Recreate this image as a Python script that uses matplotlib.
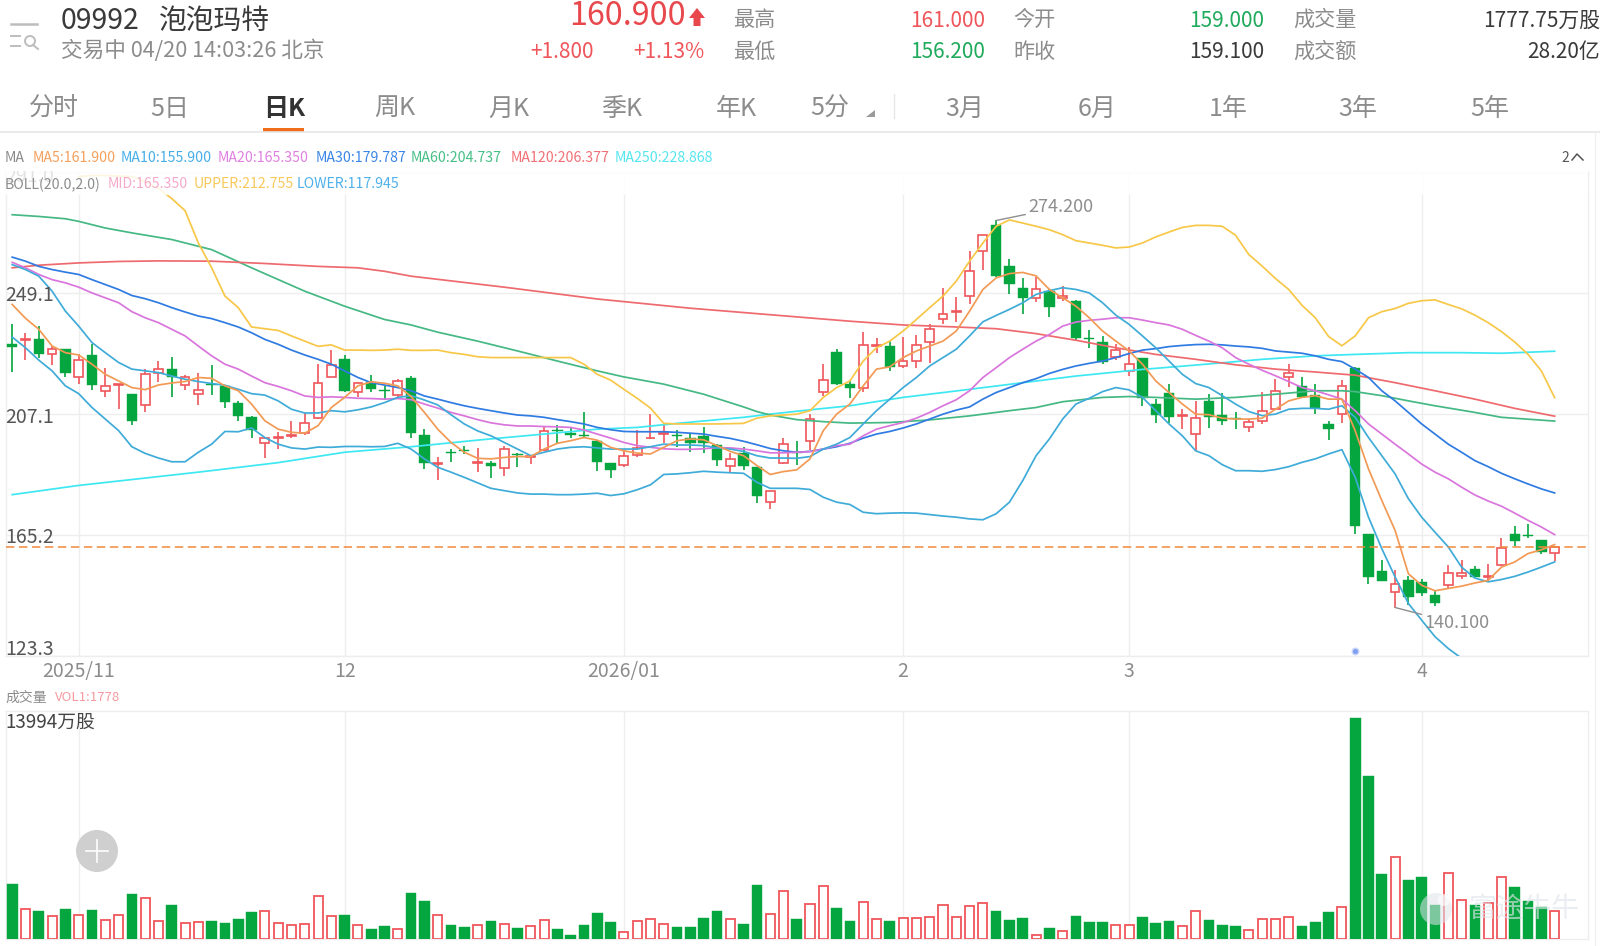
"""Daily K-line view of 09992 with moving averages, Bollinger bands and volume.

Produces out.png.
"""

from __future__ import annotations

import matplotlib

matplotlib.use("Agg")
import matplotlib.pyplot as plt
import numpy as np
from matplotlib.patches import Circle, Polygon, Rectangle

plt.rcParams["font.family"] = ["Noto Sans CJK SC", "DejaVu Sans"]

WIDTH, HEIGHT = 1600, 946
LEFT, RIGHT = 5.7, 1588.0
FIRST_X, STEP_X = 12.2, 13.297
PRICE_TOP, PRICE_BOTTOM = 172.0, 656.0
VOL_TOP, VOL_BOTTOM = 710.7, 939.3

RED = "#ef565b"
GREEN = "#05a540"
GRID = "#eeeeee"
GREY_TEXT = "#8c8c8c"
DARK_TEXT = "#3a3a3a"
LINE_WIDTH = 1.25

OPEN = [
    231.3, 232.8, 233.0, 227.8, 229.6, 220.1, 227.6, 215.2, 217.1, 214.0,
    210.1, 221.5, 222.8, 217.1, 214.2, 217.5, 216.8, 211.1, 206.2, 197.2,
    198.9, 199.5, 200.4, 205.9, 220.1, 226.1, 214.8, 218.3, 215.5, 213.6,
    219.5, 200.0, 189.7, 194.0, 194.6, 190.1, 190.3, 188.5, 193.4, 192.4,
    194.8, 201.7, 200.4, 199.9, 197.9, 190.0, 189.5, 193.1, 198.7, 200.2,
    199.9, 198.7, 199.5, 196.5, 189.0, 193.6, 188.7, 176.6, 190.3, 194.1,
    197.9, 214.9, 228.6, 217.4, 216.2, 230.6, 230.8, 223.8, 225.5, 232.2,
    240.0, 242.5, 248.0, 263.5, 272.7, 258.5, 250.9, 247.4, 249.7, 247.2,
    246.3, 233.5, 232.2, 226.9, 222.1, 226.6, 210.6, 214.4, 206.3, 200.2,
    211.5, 206.8, 205.6, 202.5, 204.8, 209.0, 219.9, 216.7, 213.8, 203.7,
    207.1, 223.0, 165.6, 152.8, 145.5, 149.5, 148.9, 144.6, 148.0, 150.9,
    153.3, 150.7, 154.7, 165.6, 165.2, 163.4, 159.0,
]
HIGH = [
    238.5, 235.3, 237.6, 230.7, 229.8, 228.1, 231.5, 223.2, 217.4, 214.1,
    222.9, 225.5, 226.9, 220.7, 221.5, 224.3, 217.1, 211.7, 206.3, 199.3,
    200.8, 204.6, 207.5, 224.6, 229.4, 227.6, 218.3, 220.6, 216.8, 219.2,
    220.3, 201.9, 192.4, 195.1, 196.2, 195.2, 191.0, 196.2, 193.6, 192.7,
    202.5, 203.4, 202.5, 207.7, 198.1, 190.1, 194.4, 201.6, 207.1, 203.4,
    201.6, 200.2, 202.5, 196.7, 193.6, 195.6, 188.9, 180.6, 199.0, 197.7,
    207.1, 224.6, 229.6, 218.6, 235.5, 233.6, 232.4, 233.8, 234.5, 238.4,
    250.9, 247.8, 263.8, 269.3, 274.2, 261.0, 254.3, 254.5, 250.6, 251.4,
    246.5, 236.1, 234.2, 231.3, 230.4, 226.7, 212.3, 217.5, 208.8, 211.7,
    214.0, 214.4, 207.8, 205.4, 214.6, 219.4, 224.4, 220.0, 217.7, 204.8,
    219.0, 223.6, 165.7, 156.5, 153.2, 151.0, 150.0, 145.9, 154.7, 156.5,
    154.6, 155.1, 164.3, 168.3, 169.1, 163.6, 161.0,
]
LOW = [
    221.8, 225.8, 226.7, 224.1, 220.1, 217.6, 215.6, 213.2, 208.9, 203.4,
    208.0, 218.4, 212.9, 215.5, 210.4, 213.8, 209.4, 204.7, 199.0, 191.8,
    195.1, 199.0, 200.0, 205.4, 220.1, 214.6, 212.9, 214.8, 211.9, 212.9,
    198.8, 188.0, 184.4, 190.4, 193.3, 187.0, 184.9, 185.5, 188.9, 189.8,
    194.2, 197.0, 199.0, 198.8, 187.3, 185.0, 188.9, 192.4, 198.5, 197.0,
    195.6, 193.9, 193.5, 189.3, 186.7, 187.9, 176.3, 174.2, 189.8, 189.6,
    194.7, 213.4, 217.1, 212.6, 214.9, 228.4, 222.1, 223.2, 223.0, 224.8,
    238.2, 239.0, 245.1, 257.1, 254.5, 248.8, 241.9, 245.9, 240.7, 246.3,
    232.7, 229.9, 224.6, 225.8, 220.3, 210.0, 203.9, 204.2, 201.9, 194.2,
    202.3, 203.3, 201.9, 201.0, 203.7, 208.7, 216.6, 212.6, 207.3, 198.1,
    204.0, 165.4, 148.2, 149.2, 140.1, 141.1, 144.0, 140.6, 146.7, 150.1,
    150.5, 149.3, 154.4, 161.3, 164.3, 158.5, 156.2,
]
CLOSE = [
    230.4, 233.1, 228.1, 229.5, 221.5, 226.0, 217.2, 216.8, 217.4, 204.8,
    220.9, 222.6, 220.0, 219.8, 215.6, 217.1, 211.3, 206.4, 201.6, 198.7,
    199.3, 199.9, 204.0, 218.0, 224.1, 215.0, 218.0, 215.9, 215.2, 218.5,
    200.4, 190.2, 190.1, 193.6, 194.2, 190.4, 189.1, 195.1, 193.1, 192.7,
    201.1, 201.1, 200.0, 199.4, 190.6, 187.9, 192.5, 195.2, 199.0, 200.5,
    199.5, 197.1, 197.0, 191.3, 191.4, 189.1, 178.6, 180.4, 196.6, 193.8,
    205.4, 219.0, 217.5, 216.3, 230.9, 230.9, 223.6, 225.5, 230.9, 236.5,
    241.7, 242.8, 256.6, 269.3, 254.8, 252.2, 247.4, 250.5, 244.3, 248.0,
    233.6, 233.1, 225.3, 229.3, 224.4, 212.6, 206.9, 206.2, 206.8, 205.9,
    206.2, 204.8, 205.3, 204.4, 208.3, 215.0, 221.3, 212.9, 209.4, 202.1,
    216.7, 168.3, 150.7, 149.3, 148.2, 143.6, 145.3, 141.7, 152.1, 152.2,
    150.7, 151.0, 160.8, 163.2, 164.9, 159.4, 160.9,
]
# Volume in units of 10k shares
VOLUME = [
    3493, 1915, 1809, 1452, 1915, 1515, 1852, 1199, 1536, 2883,
    2609, 1157, 2167, 1052, 1073, 1136, 1031, 1305, 1746, 1788,
    1052, 884, 968, 2756, 1494, 1515, 884, 673, 821, 652,
    2904, 2420, 1557, 884, 800, 905, 1136, 968, 736, 821,
    1199, 631, 295, 905, 1662, 1115, 463, 1157, 1283, 989,
    778, 778, 1326, 1767, 1283, 968, 3408, 1620, 3072, 1305,
    2230, 3387, 1957, 1178, 2335, 1305, 1178, 1326, 1368, 1431,
    2188, 1389, 2125, 2293, 1767, 1199, 1368, 274, 694, 526,
    1494, 1073, 1073, 905, 926, 1389, 1031, 1136, 863, 1788,
    1199, 926, 821, 589, 1305, 1283, 1431, 842, 1094, 1746,
    2062, 13994, 10310, 4124, 5218, 3745, 3913, 2167, 4166, 2483,
    2167, 2314, 3913, 3324, 2420, 2062, 1778,
]

MA5 = [
    245.1, 240.3, 236.5, 230.7, 228.4, 227.6, 224.4, 220.9, 218.6, 216.3,
    215.6, 217.2, 217.9, 218.4, 219.8, 219.5, 216.9, 215.2, 210.6, 204.8,
    201.9, 200.8, 200.5, 203.1, 209.4, 212.9, 216.9, 218.3, 217.8, 216.9,
    213.2, 207.7, 201.9, 197.3, 193.9, 191.8, 191.6, 192.1, 192.4, 192.4,
    195.0, 197.0, 197.9, 199.0, 198.1, 195.6, 194.4, 193.6, 193.3, 195.6,
    197.9, 198.5, 198.2, 196.2, 194.2, 192.7, 189.3, 186.2, 187.2, 187.8,
    191.6, 201.4, 207.1, 210.6, 216.9, 222.7, 223.5, 226.7, 229.0, 230.7,
    232.4, 235.9, 242.8, 250.3, 254.3, 255.8, 256.2, 255.0, 250.3, 247.4,
    244.5, 240.5, 235.9, 232.4, 229.0, 224.4, 218.6, 214.6, 210.6, 207.1,
    206.9, 205.7, 205.4, 205.4, 205.7, 208.8, 211.7, 212.9, 213.5, 212.3,
    212.3, 201.3, 188.1, 177.2, 166.8, 151.8, 147.8, 145.9, 146.7, 147.5,
    148.6, 149.5, 154.1, 155.9, 158.8, 160.1, 161.9,
]
MA10 = [
    258.9, 257.2, 254.9, 249.7, 242.8, 237.6, 231.9, 228.4, 225.0, 222.7,
    222.1, 221.5, 220.3, 219.2, 218.4, 217.7, 217.1, 215.7, 214.2, 213.7,
    211.7, 208.8, 207.5, 207.5, 208.3, 207.9, 208.6, 209.6, 211.1, 212.9,
    213.5, 212.0, 210.3, 206.9, 203.7, 201.3, 199.6, 197.3, 195.0, 192.7,
    193.9, 195.0, 195.6, 195.8, 195.4, 195.0, 195.0, 195.0, 195.8, 196.7,
    196.4, 196.4, 196.2, 195.4, 195.0, 194.2, 192.7, 191.9, 191.9, 191.8,
    192.4, 195.0, 196.7, 199.0, 203.7, 208.3, 212.3, 216.3, 219.8, 223.8,
    226.7, 229.6, 234.2, 239.1, 241.3, 243.4, 245.7, 248.6, 249.9, 250.9,
    250.3, 249.1, 245.7, 241.4, 238.2, 234.2, 230.1, 225.5, 220.9, 217.7,
    216.3, 213.5, 210.6, 208.0, 206.6, 207.1, 208.8, 209.1, 209.1, 208.8,
    210.0, 206.0, 199.0, 192.7, 186.4, 177.8, 171.4, 166.2, 161.1, 154.1,
    150.3, 149.0, 149.8, 150.9, 152.4, 154.1, 155.9,
]
MA20 = [
    259.7, 257.8, 255.5, 253.7, 252.6, 251.1, 249.1, 247.4, 245.7, 242.6,
    240.5, 238.8, 236.5, 234.2, 230.7, 227.3, 224.4, 222.7, 220.3, 218.0,
    216.7, 215.2, 213.4, 212.9, 213.1, 212.9, 212.6, 212.5, 212.3, 212.5,
    212.1, 210.6, 209.2, 207.7, 206.5, 205.2, 204.1, 203.4, 203.0, 203.0,
    202.8, 202.7, 202.5, 201.6, 200.2, 198.8, 197.3, 196.2, 195.6, 195.1,
    194.9, 194.9, 195.1, 195.5, 195.4, 195.0, 194.4, 193.7, 193.7, 193.9,
    194.1, 195.0, 196.2, 196.7, 199.6, 201.9, 203.1, 204.2, 205.7, 207.7,
    210.0, 212.1, 215.2, 219.8, 223.2, 226.7, 229.6, 232.4, 234.7, 237.6,
    239.0, 239.6, 240.0, 240.5, 240.5, 239.7, 238.8, 238.0, 236.5, 234.4,
    232.4, 230.1, 226.7, 224.4, 222.3, 220.4, 218.4, 216.3, 215.2, 213.8,
    212.3, 208.3, 203.7, 200.2, 196.7, 193.3, 189.8, 187.0, 184.7, 181.8,
    179.1, 177.0, 175.2, 172.8, 170.3, 168.0, 165.35,
]
MA30 = [
    261.5, 260.1, 258.3, 257.2, 256.3, 255.5, 253.7, 252.0, 250.3, 248.2,
    247.1, 245.7, 244.0, 242.5, 241.1, 240.2, 238.8, 237.3, 235.3, 233.0,
    231.3, 229.3, 227.6, 226.1, 224.4, 222.1, 219.8, 218.0, 217.2, 216.3,
    215.2, 213.4, 212.3, 211.1, 210.0, 209.1, 208.3, 207.5, 206.8, 206.5,
    206.0, 205.2, 204.5, 203.7, 202.5, 201.7, 201.1, 201.0, 201.0, 201.0,
    200.8, 200.5, 200.2, 199.4, 198.7, 197.7, 196.5, 195.2, 194.4, 193.9,
    194.2, 195.0, 195.8, 197.0, 198.8, 200.2, 201.1, 202.3, 203.7, 205.4,
    207.1, 208.5, 209.6, 212.3, 214.6, 216.3, 218.0, 219.4, 221.2, 222.6,
    223.8, 224.7, 225.5, 226.7, 228.1, 229.3, 229.8, 230.5, 230.9, 231.2,
    231.3, 231.1, 230.7, 230.4, 229.9, 229.0, 228.6, 228.2, 227.3, 226.1,
    225.3, 222.7, 219.8, 215.2, 211.7, 207.7, 203.7, 200.2, 196.7, 193.9,
    191.0, 188.9, 186.6, 184.7, 182.9, 181.2, 179.8,
]
LOWER = [
    233.8, 230.1, 225.8, 222.1, 216.9, 214.2, 209.4, 205.4, 201.4, 195.8,
    193.5, 191.9, 190.6, 190.6, 193.9, 196.7, 201.1, 201.0, 202.3, 199.0,
    196.7, 195.4, 195.0, 195.7, 195.6, 195.9, 195.9, 195.8, 195.9, 197.0,
    195.0, 191.6, 188.7, 187.0, 185.2, 183.3, 181.4, 180.6, 179.8, 179.4,
    179.4, 179.2, 179.2, 179.4, 179.7, 178.9, 179.5, 180.9, 182.6, 186.2,
    186.4, 186.8, 187.3, 187.0, 186.8, 186.6, 183.5, 181.4, 181.4, 181.4,
    181.0, 178.3, 176.6, 175.8, 173.1, 172.6, 172.8, 172.9, 172.8, 172.3,
    171.8, 171.4, 170.8, 170.5, 172.6, 176.6, 184.1, 192.7, 198.5, 205.4,
    210.6, 212.6, 214.9, 216.3, 215.5, 212.9, 208.3, 203.7, 199.6, 194.4,
    192.7, 189.6, 187.5, 187.5, 187.3, 187.9, 188.9, 190.4, 191.6, 193.3,
    194.8, 185.2, 171.4, 160.5, 150.7, 141.5, 135.7, 130.0, 125.9, 122.5,
    121.5, 120.6, 119.9, 119.3, 118.8, 118.3, 117.9,
]
# Upper band enters the chart at the sixth session
UPPER_START = 6
UPPER = [
    289.4, 289.8, 289.8, 289.6, 289.4, 287.7, 285.3, 281.8, 277.6, 266.4,
    257.8, 248.0, 244.0, 237.3, 236.7, 236.1, 234.2, 232.4, 230.6, 231.1,
    229.3, 229.3, 229.2, 229.3, 229.6, 229.2, 229.2, 229.3, 228.4, 227.8,
    227.0, 226.7, 226.7, 226.7, 226.7, 226.7, 226.7, 226.7, 224.4, 220.9,
    218.9, 215.7, 212.6, 209.2, 203.9, 203.7, 203.7, 203.7, 203.7, 203.8,
    203.9, 205.7, 206.5, 206.8, 207.1, 208.3, 212.9, 216.3, 218.6, 225.5,
    230.1, 232.4, 235.9, 239.9, 244.0, 248.0, 253.2, 260.1, 266.4, 272.2,
    274.4, 273.3, 272.2, 271.0, 269.3, 267.2, 266.4, 265.6, 264.7, 265.0,
    266.4, 268.5, 270.2, 271.8, 272.5, 272.5, 272.2, 269.1, 262.4, 258.4,
    254.1, 250.3, 244.8, 240.5, 234.0, 230.8, 234.2, 240.5, 242.6, 243.7,
    245.5, 246.4, 246.7, 245.1, 243.6, 241.4, 238.8, 235.7, 232.1, 227.8,
    222.1, 212.8,
]
# The slow averages are read at fewer sessions (1-based session numbers)
MA60_DAYS = [
    1, 3, 5, 6, 8, 10, 13, 16, 19, 23, 26, 29, 31, 33, 36, 39, 42, 45, 47, 50,
    53, 56, 57, 58, 60, 62, 64, 67, 70, 73, 76, 78, 80, 83, 85, 87, 90, 93,
    96, 99, 101, 102, 104, 106, 108, 111, 113, 117,
]
MA60 = [
    276.2, 275.6, 274.8, 273.9, 271.6, 269.9, 267.6, 264.1, 257.8, 249.7,
    244.5, 239.9, 238.0, 235.5, 232.4, 229.0, 225.5, 222.1, 220.0, 217.5,
    214.0, 209.6, 208.0, 206.8, 205.2, 204.5, 204.0, 204.2, 205.1, 206.5,
    208.3, 209.4, 211.4, 212.9, 213.2, 212.9, 212.3, 212.9, 214.0, 215.2,
    215.2, 214.9, 213.5, 211.7, 210.0, 207.7, 206.0, 204.7,
]
MA120_DAYS = [
    1, 3, 6, 9, 12, 16, 20, 24, 27, 29, 31, 38, 45, 52, 60, 64, 68, 72, 75,
    78, 81, 84, 87, 90, 93, 96, 99, 102, 105, 108, 111, 114, 117,
]
MA120 = [
    257.8, 258.7, 259.5, 260.0, 260.2, 260.1, 259.3, 258.3, 257.8, 256.6,
    254.9, 251.1, 247.0, 243.8, 240.8, 239.3, 238.0, 237.3, 236.7, 235.0,
    232.7, 230.1, 227.8, 226.1, 224.2, 222.7, 221.7, 220.6, 218.0, 215.2,
    212.3, 209.1, 206.4,
]
MA250_DAYS = [
    1, 6, 15, 21, 26, 31, 36, 41, 45, 48, 51, 56, 58, 61, 64, 68, 73, 77, 81,
    86, 90, 95, 99, 102, 106, 110, 113, 117,
]
MA250 = [
    179.2, 182.4, 187.0, 190.3, 193.9, 195.8, 198.1, 200.2, 201.9, 202.5,
    203.9, 206.0, 207.1, 208.6, 210.0, 212.9, 215.7, 218.0, 220.3, 222.6,
    224.1, 226.1, 227.3, 227.8, 228.4, 228.4, 228.2, 228.9,
]

PRICE_TICKS = [123.3, 165.2, 207.1, 249.1, 291.0]
PRICE_LABELS = ["123.3", "165.2", "207.1", "249.1", "291.0"]
MONTH_DAYS = [6, 26, 47, 68, 85, 107]
MONTH_LABELS = ["2025/11", "12", "2026/01", "2", "3", "4"]

LAST_PRICE = 160.9
HIGH_MARK = (75, 274.2, "274.200")
LOW_MARK = (105, 140.1, "140.100")
VOLUME_MAX_LABEL = "13994万股"

TABS_LEFT = ["分时", "5日", "日K", "周K", "月K", "季K", "年K", "5分"]
TABS_LEFT_X = [54, 170, 284, 395, 509, 622, 736, 830]
TABS_RIGHT = ["3月", "6月", "1年", "3年", "5年"]
TABS_RIGHT_X = [965, 1097, 1228, 1358, 1490]

MA_LEGEND = [
    ("MA", 5, "#8c8c8c"),
    ("MA5:161.900", 33, "#f5a05c"),
    ("MA10:155.900", 121, "#46aee8"),
    ("MA20:165.350", 218, "#e080e0"),
    ("MA30:179.787", 316, "#3a86e8"),
    ("MA60:204.737", 411, "#46bf86"),
    ("MA120:206.377", 511, "#f07075"),
    ("MA250:228.868", 615, "#55e6f0"),
]
BOLL_LEGEND = [
    ("BOLL(20.0,2.0)", 5, "#8c8c8c"),
    ("MID:165.350", 108, "#f5aacb"),
    ("UPPER:212.755", 194, "#f8c95a"),
    ("LOWER:117.945", 297, "#4fb0ea"),
]
QUOTE_TEXT = [
    # text, x, y, size, colour, horizontal alignment
    ("160.900", 686, 16, 23.2, "#e8474c", "right"),
    ("+1.800", 594, 52, 15, RED, "right"),
    ("+1.13%", 704, 52, 15, RED, "right"),
    ("最高", 733, 20, 15.2, GREY_TEXT, "left"),
    ("最低", 733, 52, 15.2, GREY_TEXT, "left"),
    ("161.000", 985, 21, 15, RED, "right"),
    ("156.200", 985, 52, 15, "#20aa5c", "right"),
    ("今开", 1013, 20, 15.2, GREY_TEXT, "left"),
    ("昨收", 1013, 52, 15.2, GREY_TEXT, "left"),
    ("159.000", 1264, 21, 15, "#20aa5c", "right"),
    ("159.100", 1264, 52, 15, DARK_TEXT, "right"),
    ("成交量", 1293, 20, 15.2, GREY_TEXT, "left"),
    ("成交额", 1293, 52, 15.2, GREY_TEXT, "left"),
    ("1777.75万股", 1600, 21, 15, DARK_TEXT, "right"),
    ("28.20亿", 1600, 52, 15, DARK_TEXT, "right"),
]


def to_data_x(px: float) -> float:
    return (px - FIRST_X) / STEP_X


def add_axes_px(fig, top: float, bottom: float):
    ax = fig.add_axes(
        [
            LEFT / WIDTH,
            1 - bottom / HEIGHT,
            (RIGHT - LEFT) / WIDTH,
            (bottom - top) / HEIGHT,
        ]
    )
    ax.set_xlim(to_data_x(LEFT), to_data_x(RIGHT))
    ax.set_xticks(np.array(MONTH_DAYS) - 1)
    ax.set_xticklabels([])
    ax.tick_params(length=0, labelleft=False)
    ax.grid(True, color=GRID, linewidth=1.0)
    ax.set_axisbelow(True)
    for spine in ax.spines.values():
        spine.set_color(GRID)
        spine.set_linewidth(1.0)
    return ax


def draw_candles(ax) -> None:
    days = np.arange(len(CLOSE))
    opens, closes = np.array(OPEN), np.array(CLOSE)
    up = closes >= opens
    colours = np.where(up, RED, GREEN)
    ax.vlines(days, LOW, HIGH, colors=colours, linewidth=1.2, zorder=2)
    ax.bar(
        days[up],
        (closes - opens)[up],
        bottom=opens[up],
        width=0.66,
        facecolor="white",
        edgecolor=RED,
        linewidth=1.2,
        zorder=3,
    )
    ax.bar(
        days[~up],
        (opens - closes)[~up],
        bottom=closes[~up],
        width=0.78,
        facecolor=GREEN,
        edgecolor=GREEN,
        linewidth=0.3,
        zorder=3,
    )


def draw_lines(ax) -> None:
    dense = [
        (MA30, "#2f7be2"),
        (MA20, "#d975dc"),
        (MA10, "#3fabd8"),
        (LOWER, "#3fabd8"),
        (MA5, "#f29a55"),
    ]
    sparse = [
        (MA250_DAYS, MA250, "#3ee8f2"),
        (MA60_DAYS, MA60, "#45b884"),
        (MA120_DAYS, MA120, "#ee6a6e"),
    ]
    for days, values, colour in sparse:
        ax.plot(np.array(days) - 1, values, color=colour, linewidth=LINE_WIDTH, zorder=4)
    upper_days = np.arange(len(UPPER)) + UPPER_START - 1
    ax.plot(upper_days, UPPER, color="#f7c748", linewidth=LINE_WIDTH, zorder=4)
    for values, colour in dense:
        ax.plot(np.arange(len(values)), values, color=colour, linewidth=LINE_WIDTH, zorder=4)
    ax.axhline(
        LAST_PRICE, color="#f08a3c", linewidth=1.1, dashes=(5.5, 3), zorder=5
    )


def draw_price_panel(fig):
    ax = add_axes_px(fig, PRICE_TOP, PRICE_BOTTOM)
    ax.set_ylim(PRICE_TICKS[0], PRICE_TICKS[-1])
    ax.set_yticks(PRICE_TICKS)
    draw_candles(ax)
    draw_lines(ax)

    # label centres sit a few pixels off their grid lines
    offsets = [6.5, -2, -3.5, -3, -5]
    for value, label, offset in zip(PRICE_TICKS, PRICE_LABELS, offsets):
        ax.annotate(
            label,
            (LEFT, value),
            xycoords=("figure pixels", "data"),
            xytext=(0, offset * 0.72),
            textcoords="offset points",
            fontsize=14,
            color="#555555",
            va="center",
            ha="left",
            annotation_clip=False,
            zorder=6,
        )

    for (day, value, label), offset in zip(
        [HIGH_MARK, LOW_MARK], [(23, 9.5), (21, -11.5)]
    ):
        ax.annotate(
            label,
            (day - 1, value),
            xytext=offset,
            textcoords="offset points",
            fontsize=13,
            color="#8e8e8e",
            va="center",
            ha="left",
            arrowprops=dict(arrowstyle="-", color="#8e8e8e", linewidth=1.0, shrinkA=0, shrinkB=0),
            zorder=6,
        )
    ax.scatter([LOW_MARK[0] - 4], [125.1], s=22, color="#7f9ff2", edgecolor="#c8d6fa", linewidth=1, zorder=6)
    return ax


def draw_volume_panel(fig):
    ax = add_axes_px(fig, VOL_TOP, VOL_BOTTOM)
    days = np.arange(len(VOLUME))
    volume = np.array(VOLUME)
    up = np.array(CLOSE) >= np.array(OPEN)
    ax.set_ylim(0, max(VOLUME) * (VOL_BOTTOM - VOL_TOP) / 221.6)
    ax.set_yticks([])
    ax.grid(True, axis="x", color=GRID, linewidth=1.0)
    ax.bar(days[up], volume[up], width=0.68, facecolor="white", edgecolor=RED, linewidth=1.3, zorder=3)
    ax.bar(days[~up], volume[~up], width=0.8, facecolor=GREEN, edgecolor=GREEN, linewidth=0.3, zorder=3)
    return ax


def draw_chrome(fig) -> None:
    ov = fig.add_axes([0, 0, 1, 1], zorder=10)
    ov.set_xlim(0, WIDTH)
    ov.set_ylim(HEIGHT, 0)
    ov.axis("off")
    ov.patch.set_alpha(0)

    # menu and search icon
    ov.plot([11, 37], [24, 24], color="#bdbdbd", linewidth=1.8)
    ov.plot([11, 20], [36, 36], color="#bdbdbd", linewidth=1.4)
    ov.plot([11, 20], [46, 46], color="#bdbdbd", linewidth=1.4)
    ov.add_patch(Circle((30, 41), 5, fill=False, edgecolor="#bdbdbd", linewidth=1.4))
    ov.plot([33, 38], [45, 49], color="#bdbdbd", linewidth=1.4)

    ov.text(61, 21, "09992", fontsize=20.5, color=DARK_TEXT, va="center", ha="left")
    ov.text(159, 21, "泡泡玛特", fontsize=20, color=DARK_TEXT, va="center", ha="left")
    ov.text(61, 51, "交易中 04/20 14:03:26 北京", fontsize=15.6, color=GREY_TEXT, va="center", ha="left")
    for text, x, y, size, colour, align in QUOTE_TEXT:
        ov.text(x, y, text, fontsize=size, color=colour, va="center", ha=align)
    ov.add_patch(
        Polygon(
            [(697, 8), (705, 18), (700.5, 18), (700.5, 26), (693.5, 26), (693.5, 18), (689, 18)],
            facecolor="#e8474c",
            edgecolor="none",
        )
    )

    for label, x in zip(TABS_LEFT, TABS_LEFT_X):
        active = label == "日K"
        ov.text(
            x,
            108.5,
            label,
            fontsize=18,
            color="#333333" if active else GREY_TEXT,
            fontweight="bold" if active else "normal",
            va="center",
            ha="center",
        )
    for label, x in zip(TABS_RIGHT, TABS_RIGHT_X):
        ov.text(x, 108.5, label, fontsize=18, color=GREY_TEXT, va="center", ha="center")
    ov.add_patch(Polygon([(875, 110), (875, 117), (866, 117)], facecolor="#9a9a9a", edgecolor="none"))
    ov.plot([894, 894], [94, 118], color="#e6e6e6", linewidth=1)
    ov.plot([0, WIDTH], [132, 132], color="#e6e6e6", linewidth=1.2)
    ov.add_patch(Rectangle((263, 128), 41, 4, facecolor="#ef6c1a", edgecolor="none"))
    ov.plot([1595, 1595], [132, HEIGHT], color="#f0f0f0", linewidth=1)

    # legend rows sit on a translucent band over the top of the price panel
    ov.add_patch(Rectangle((LEFT, 171), RIGHT - LEFT, 24, facecolor="white", edgecolor="none", alpha=0.84))
    ov.add_patch(Rectangle((0, 134), WIDTH, 37, facecolor="white", edgecolor="none"))
    for text, x, colour in MA_LEGEND:
        ov.text(x, 158, text, fontsize=10.2, color=colour, va="center", ha="left")
    for text, x, colour in BOLL_LEGEND:
        ov.text(x, 184.5, text, fontsize=10.2, color=colour, va="center", ha="left")
    ov.text(1561, 158, "2", fontsize=10, color="#555555", va="center", ha="left")
    ov.plot([1572, 1577, 1583], [160, 154, 160], color="#555555", linewidth=1.1)

    for x, label in zip(MONTH_DAYS, MONTH_LABELS):
        px = FIRST_X + (x - 1) * STEP_X
        ov.text(px, 671, label, fontsize=14, color=GREY_TEXT, va="center", ha="center")

    ov.text(5, 697.5, "成交量", fontsize=10, color=GREY_TEXT, va="center", ha="left")
    ov.text(55, 697.5, "VOL1:1778", fontsize=9.5, color="#f59aa0", va="center", ha="left")
    ov.text(5, 722, VOLUME_MAX_LABEL, fontsize=13.5, color="#444444", va="center", ha="left")

    # zoom button
    ov.add_patch(Circle((97, 851), 21, facecolor="#cfcfcf", edgecolor="none"))
    ov.plot([86, 108], [851, 851], color="white", linewidth=1.2)
    ov.plot([97, 97], [840, 862], color="white", linewidth=1.2)

    # watermark
    ov.add_patch(Circle((1436, 909), 16, facecolor="#dfe4ea", edgecolor="none", alpha=0.55))
    ov.add_patch(Circle((1444, 900), 6, facecolor="white", edgecolor="none", alpha=0.6))
    ov.text(1524, 909, "富途牛牛", fontsize=20, color="#dfe4ea", alpha=0.65, va="center", ha="center")


def main() -> None:
    fig = plt.figure(figsize=(WIDTH / 100, HEIGHT / 100), dpi=100, facecolor="white")
    draw_price_panel(fig)
    draw_volume_panel(fig)
    draw_chrome(fig)
    fig.savefig("out.png", dpi=100)


if __name__ == "__main__":
    main()
